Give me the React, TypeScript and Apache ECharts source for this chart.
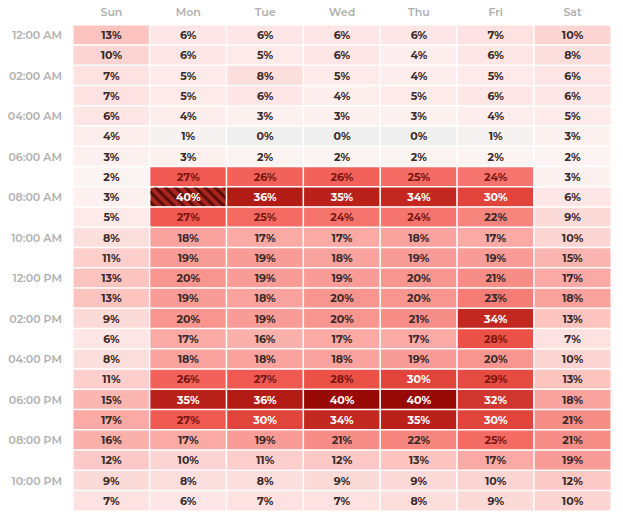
import React, { useEffect, useRef } from "react";
import * as echarts from "echarts";

const days = ["Sun", "Mon", "Tue", "Wed", "Thu", "Fri", "Sat"];
const hours = [
  "12:00 AM", "01:00 AM", "02:00 AM", "03:00 AM", "04:00 AM", "05:00 AM",
  "06:00 AM", "07:00 AM", "08:00 AM", "09:00 AM", "10:00 AM", "11:00 AM",
  "12:00 PM", "01:00 PM", "02:00 PM", "03:00 PM", "04:00 PM", "05:00 PM",
  "06:00 PM", "07:00 PM", "08:00 PM", "09:00 PM", "10:00 PM", "11:00 PM",
];
// rows = hours, columns = Sun..Sat
const sun = [13, 10, 7, 7, 6, 4, 3, 2, 3, 5, 8, 11, 13, 13, 9, 6, 8, 11, 15, 17, 16, 12, 9, 7];
const mon = [6, 6, 5, 5, 4, 1, 3, 27, 40, 27, 18, 19, 20, 19, 20, 17, 18, 26, 35, 27, 17, 10, 8, 6];
const tue = [6, 5, 8, 6, 3, 0, 2, 26, 36, 25, 17, 19, 19, 18, 19, 16, 18, 27, 36, 30, 19, 11, 8, 7];
const wed = [6, 6, 5, 4, 3, 0, 2, 26, 35, 24, 17, 18, 19, 20, 20, 17, 18, 28, 40, 34, 21, 12, 9, 7];
const thu = [6, 4, 4, 5, 3, 0, 2, 25, 34, 24, 18, 19, 20, 20, 21, 17, 19, 30, 40, 35, 22, 13, 9, 8];
const fri = [7, 6, 5, 6, 4, 1, 2, 24, 30, 22, 17, 19, 21, 23, 34, 28, 20, 29, 32, 30, 25, 17, 10, 9];
const sat = [10, 8, 6, 6, 5, 3, 2, 3, 6, 9, 10, 15, 17, 18, 13, 7, 10, 13, 18, 21, 21, 19, 12, 10];
const columns = [sun, mon, tue, wed, thu, fri, sat];
const highlighted = { day: 1, hour: 8 };

// colour stops every 2%, from 0% to 40%
const colorStops = [
  "#efefef", "#fcf4f3", "#fdeeed", "#fde6e5", "#fcdedc", "#fcd5d3", "#fcc9c6",
  "#fbbcb8", "#fab0ab", "#f9a29e", "#f8958f", "#f6857e", "#f5746d", "#f2615a",
  "#ec5148", "#e0443a", "#d0362d", "#c22720", "#b31b15", "#a5110c", "#980804",
];

function labelColor(v: number) {
  if (v >= 30) return "#ffffff";
  if (v >= 24) return "#7a1610";
  return "#3a2a2a";
}

export default function App() {
  const ref = useRef<HTMLDivElement>(null);
  useEffect(() => {
    if (!ref.current) return;
    const chart = echarts.init(ref.current, null, { renderer: "svg" });
    const data: any[] = [];
    columns.forEach((col, d) => {
      col.forEach((v, h) => {
        const item: any = {
          value: [d, h, v],
          label: { color: labelColor(v) },
        };
        if (d === highlighted.day && h === highlighted.hour) {
          item.itemStyle = {
            color: "#a8241d",
            decal: {
              symbol: "rect",
              color: "#5c0e0a",
              dashArrayX: [1, 0],
              dashArrayY: [2.5, 3.5],
              rotation: Math.PI / 4,
            },
          };
        }
        data.push(item);
      });
    });
    chart.setOption({
      animation: false,
      backgroundColor: "#ffffff",
      grid: { left: 73, right: 12, top: 25, bottom: 9 },
      xAxis: {
        type: "category",
        position: "top",
        data: days,
        axisLine: { show: false },
        axisTick: { show: false },
        splitLine: { show: false },
        axisLabel: {
          color: "#b0b0b0",
          fontSize: 11,
          fontFamily: "Montserrat, 'Open Sans', sans-serif",
          fontWeight: 600,
          margin: 8,
        },
      },
      yAxis: {
        type: "category",
        data: hours,
        inverse: true,
        axisLine: { show: false },
        axisTick: { show: false },
        splitLine: { show: false },
        axisLabel: {
          interval: 1,
          color: "#b0b0b0",
          fontSize: 11,
          fontFamily: "Montserrat, 'Open Sans', sans-serif",
          fontWeight: 600,
          margin: 11,
        },
      },
      visualMap: {
        show: false,
        type: "continuous",
        min: 0,
        max: 40,
        dimension: 2,
        inRange: { color: colorStops },
      },
      series: [
        {
          type: "heatmap",
          data,
          itemStyle: { borderColor: "#ffffff", borderWidth: 1.5 },
          label: {
            show: true,
            formatter: (p: any) => p.value[2] + "%",
            fontSize: 11,
            fontWeight: 700,
            fontFamily: "Montserrat, 'Open Sans', sans-serif",
          },
          emphasis: { disabled: true },
        },
      ],
    });
    return () => chart.dispose();
  }, []);
  return (
    <div
      ref={ref}
      style={{ position: "absolute", left: 0, top: 0, width: 623, height: 520 }}
    />
  );
}
